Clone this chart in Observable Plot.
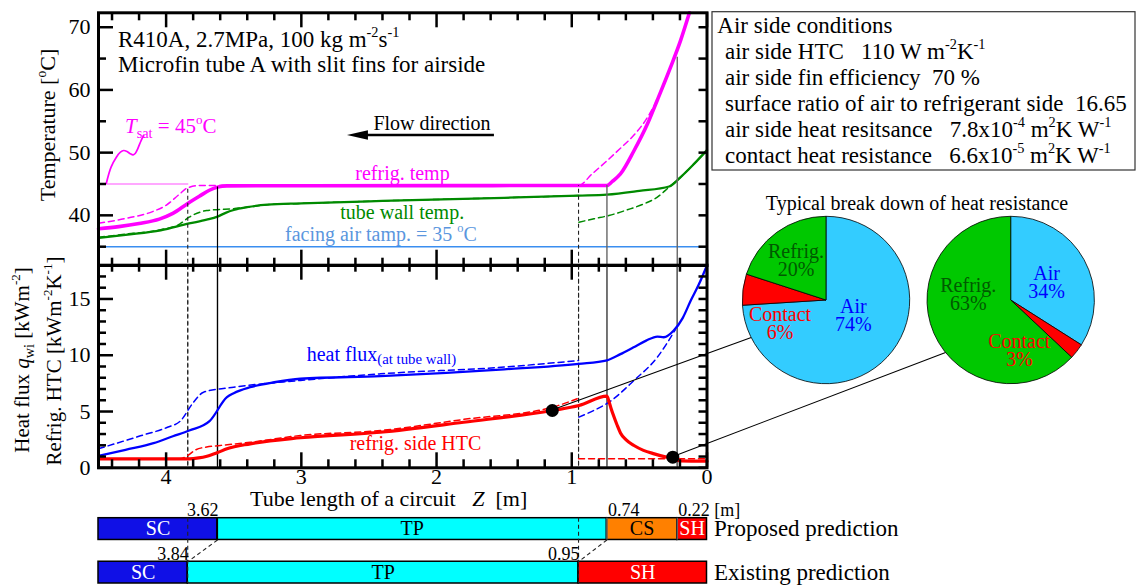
<!DOCTYPE html>
<html><head><meta charset="utf-8">
<script src="https://cdn.jsdelivr.net/npm/d3@7"></script>
<script src="https://cdn.jsdelivr.net/npm/@observablehq/plot@0.6"></script>
<style>
html,body{margin:0;padding:0;background:#fff;overflow:hidden}
#chart{position:relative;width:1139px;height:588px}
#chart svg{position:absolute;left:0;top:0}
</style></head><body><div id="chart"></div>
<script>
// ---------------- data ----------------
const zTicksMajor = [0, 1, 2, 3, 4];
const zTicksMinor = [0.2,0.4,0.6,0.8,1.2,1.4,1.6,1.8,2.2,2.4,2.6,2.8,3.2,3.4,3.6,3.8,4.2,4.4];
const tempTicksMajor = [40, 50, 60, 70];
const tempTicksMinor = [35, 45, 55, 65];
const fluxTicksMajor = [0, 5, 10, 15];
const fluxTicksMinor = [1,2,3,4,6,7,8,9,11,12,13,14,16,17];

// temperature [°C] vs tube length Z [m]
const refrigTempProposed = [[4.5,37.85],[4.35,38.2],[4.2,38.7],[4.05,39.4],[3.95,40.3],[3.84,41.9],[3.75,43.1],[3.68,44.0],[3.62,44.5],[3.55,44.7],[3.0,44.72],[2.0,44.74],[1.0,44.75],[0.74,44.75],[0.7,45.4],[0.64,46.6],[0.54,50.3],[0.44,54.6],[0.367,58.4],[0.27,63.6],[0.195,67.9],[0.13,72.3]];
const refrigTempExisting = [[4.5,38.74],[4.3,39.5],[4.1,40.6],[4.0,41.6],[3.9,43.4],[3.84,44.4],[3.75,44.75],[3.0,44.75],[2.0,44.75],[0.95,44.75],[0.85,46.6],[0.75,48.5],[0.65,50.5],[0.54,52.8],[0.45,55.3],[0.367,58.5],[0.3,61.8],[0.27,63.6],[0.195,67.9],[0.13,72.3]];
const wallTempProposed = [[4.5,36.4],[4.3,36.9],[4.04,37.6],[3.83,38.7],[3.7,39.3],[3.62,39.8],[3.56,40.4],[3.5,40.85],[3.4,41.3],[3.25,41.7],[3.0,41.9],[2.4,42.3],[1.5,42.8],[0.95,43.15],[0.74,43.3],[0.5,43.9],[0.28,44.6],[0.195,46.1],[0.096,48.2],[0,50.4]];
const wallTempExistingTP = [[4.5,36.5],[4.3,37.0],[4.04,37.7],[3.9,38.6],[3.83,39.7],[3.7,40.77],[3.6,40.93],[3.53,41.0],[3.4,41.3],[3.25,41.7],[3.0,41.9],[2.4,42.3],[1.5,42.8],[0.95,43.15]];
const wallTempExistingSH = [[0.947,38.9],[0.836,39.45],[0.725,39.97],[0.589,40.88],[0.466,41.84],[0.367,42.9],[0.281,44.5],[0.195,46.1],[0.096,48.2],[0,50.4]];
const saturationTemp = [[4.5,45],[3.84,45]];
const facingAirTemp = [[4.5,35],[0,35]];

// heat flux [kW m-2] and refrigerant HTC [kW m-2 K-1] vs Z [m]
const heatFluxProposed = [[4.5,1.05],[4.3,1.6],[4.093,2.19],[3.95,2.8],[3.829,3.31],[3.679,4.14],[3.55,6.27],[3.5,6.63],[3.378,7.16],[3.2,7.6],[3.007,7.91],[2.415,8.15],[1.5,8.75],[0.95,9.24],[0.74,9.55],[0.64,10.1],[0.543,10.71],[0.45,11.3],[0.367,11.66],[0.32,11.6],[0.246,12.2],[0.18,13.3],[0.12,14.86],[0.06,16.3],[0,18.0]];
const heatFluxExistingTP = [[4.5,1.69],[4.19,2.84],[3.99,3.6],[3.896,4.14],[3.797,5.83],[3.723,6.72],[3.5,7.16],[3.007,7.76],[2.415,8.35],[1.5,8.95],[0.95,9.53]];
const heatFluxExistingSH = [[0.947,4.5],[0.836,5.1],[0.725,5.83],[0.54,7.76],[0.367,9.83],[0.235,12.25]];
const htcProposed = [[4.5,0.8],[3.83,0.8],[3.76,0.88],[3.698,1.03],[3.62,1.35],[3.55,1.69],[3.378,2.13],[3.007,2.67],[2.415,3.16],[1.8,4.05],[1.144,5.09],[0.947,5.53],[0.74,6.36],[0.725,5.9],[0.71,5.3],[0.69,4.6],[0.665,3.8],[0.64,3.1],[0.6,2.5],[0.54,1.98],[0.47,1.55],[0.39,1.24],[0.3,0.95],[0.244,0.8],[0.196,0.62],[0,0.59]];
const htcExistingTP = [[4.5,0.8],[3.9,0.8],[3.86,0.95],[3.84,1.1],[3.78,1.6],[3.7,1.85],[3.6,1.98],[3.378,2.27],[3.007,2.87],[2.415,3.31],[1.8,4.3],[1.144,5.38],[0.96,6.13]];
const htcExistingSH = [[0.95,0.8],[0,0.8]];
const resistancePoints = [[1.144,5.09],[0.253,0.94]];

// region prediction bars
const predictionNames = ["Proposed prediction", "Existing prediction"];
const proposedRegions = ["SC", "TP", "CS", "SH"];
const proposedBounds = [4.5, 3.62, 0.74, 0.22, 0];
const proposedBoundLabels = ["3.62", "0.74", "0.22 [m]"];
const existingRegions = ["SC", "TP", "SH"];
const existingBounds = [4.5, 3.84, 0.95, 0];
const existingBoundLabels = ["3.84", "0.95"];
const proposedBoundaryStartT = [44.5, 44.75, 65.2];
const existingBoundaryStartT = [44.4, 44.75];

// heat-resistance breakdown pies [%]
const pieCategories = ["Air", "Contact", "Refrig."];
const pieSharesA = [74, 6, 20];
const pieSharesB = [34, 3, 63];

// ---------------- layout & style ----------------
const W = 1139, H = 588, xL = 98, xR = 706.5;
const fontCss = "'Liberation Serif', 'Times New Roman', serif";
const baseStyle = {background: "transparent", overflow: "visible", fontFamily: fontCss, fontSize: "22px", color: "black"};
const xOpts = {domain: [4.5, 0], range: [xL, xR], axis: null};
const FW = xR - xL;
const topY0 = 12.3, topY1 = 265, botY0 = 264.7, botY1 = 467.3;
const FH1 = topY1 - topY0, FH2 = botY1 - botY0;
const XY = {x: d => d[0], y: d => d[1]};
const curve = "monotone-x";
const TW = 2.5;
const regionFill = {SC: "#1010e6", TP: "#00ffff", CS: "#ff8000", SH: "#ff0000"};
const regionText = {SC: "#ffffff", TP: "#000000", CS: "#000000", SH: "#ffffff"};
const pieFill = ["#33ccff", "#ff0000", "#00c800"];
const pieText = ["#0000ff", "#ff0000", "#005a00"];
const pieLayout = [
  {cx: 826, cy: 300, r: 83.7, leaderDeg: 153.3, labelOffset: [[27.3, 13.3], [-46, 21], [-30, -41.7]]},
  {cx: 1010.7, cy: 300, r: 83.7, leaderDeg: 141.1, labelOffset: [[36, -20], [8.6, 48.3], [-42.4, -8.3]]}
];
const tSatPointer = [[4.442,45.12],[4.407,47.68],[4.368,49.27],[4.338,50.07],[4.314,50.34],[4.289,50.18],[4.264,49.81],[4.244,49.65],[4.227,49.91],[4.21,50.61],[4.185,51.93],[4.166,52.73]];
const flowArrow = {from: 1.572, to: 2.659, t: 52.73};
const axisText = {fontFamily: fontCss, fontSize: 22, fontVariant: "normal", tickFormat: d => String(d), label: null, tickSize: 0};

const boundaryRows = [
  ...proposedBounds.slice(1, -1).map((z, i) => ({z, t: proposedBoundaryStartT[i], kind: i === 0 ? "black" : "gray", label: proposedBoundLabels[i]})),
  ...existingBounds.slice(1, -1).map((z, i) => ({z, t: existingBoundaryStartT[i], kind: "dash", label: existingBoundLabels[i]}))
];
const ruleStyle = {
  black: {stroke: "#000", strokeWidth: 1.2},
  gray: {stroke: "#666", strokeWidth: 1.4},
  dash: {stroke: "#222", strokeWidth: 1.1, strokeDasharray: "4,3"}
};
function boundaryRules(extra) {
  return ["black", "gray", "dash"].map(k =>
    Plot.ruleX(boundaryRows.filter(d => d.kind === k), {x: "z", ...extra(k), ...ruleStyle[k]}));
}

const chart = document.getElementById("chart");

// ---------------- top panel: temperatures ----------------
const topPlot = Plot.plot({
  width: W, height: H, marginLeft: xL, marginRight: W - xR, marginTop: topY0, marginBottom: H - topY1,
  style: baseStyle, x: xOpts,
  y: {domain: [32, 72.3], range: [topY1, topY0], axis: null},
  marks: [
    Plot.line(facingAirTemp, {...XY, stroke: "#3a8ef0", strokeWidth: 1.6}),
    Plot.line(saturationTemp, {...XY, stroke: "#ff8cff", strokeWidth: 1.4}),
    Plot.line(wallTempExistingTP, {...XY, curve, stroke: "#008a00", strokeWidth: 1.5, strokeDasharray: "6,4"}),
    Plot.line(wallTempExistingSH, {...XY, curve, stroke: "#008a00", strokeWidth: 1.5, strokeDasharray: "6,4"}),
    Plot.line(wallTempProposed, {...XY, curve, stroke: "#008a00", strokeWidth: 2.3}),
    Plot.line(refrigTempExisting, {...XY, curve, stroke: "#ff00ff", strokeWidth: 1.5, strokeDasharray: "6,4"}),
    Plot.line(refrigTempProposed, {...XY, curve, stroke: "#ff00ff", strokeWidth: 3.6}),
    Plot.line(tSatPointer, {...XY, curve: "catmull-rom", stroke: "#ff00ff", strokeWidth: 1.7}),
    ...boundaryRules(() => ({y1: "t"})),
    Plot.tickX(zTicksMajor, {x: d => d, insetBottom: FH1 - 15, strokeWidth: TW}),
    Plot.tickX(zTicksMinor, {x: d => d, insetBottom: FH1 - 8, strokeWidth: TW}),
    Plot.tickY(tempTicksMajor, {y: d => d, insetRight: FW - 15, strokeWidth: TW}),
    Plot.tickY(tempTicksMinor, {y: d => d, insetRight: FW - 8, strokeWidth: TW}),
    Plot.tickY([...tempTicksMajor, ...tempTicksMinor], {y: d => d, insetLeft: FW - 8, strokeWidth: TW}),
    Plot.frame({stroke: "black", strokeWidth: 3}),
    Plot.axisY({anchor: "left", ticks: tempTicksMajor, tickPadding: 8, ...axisText}),
    Plot.text(["refrig. temp"], {x: 2.252, y: 45.71, lineAnchor: "bottom", fill: "#ff00ff", fontSize: 20}),
    Plot.text(["tube wall temp."], {x: 2.254, y: 39.45, lineAnchor: "bottom", fill: "#008a00", fontSize: 20}),
    Plot.text(["Flow direction"], {x: 2.467, y: 53.53, lineAnchor: "bottom", textAnchor: "start", fill: "#000", fontSize: 20}),
    (index, scales) => {
      const g = d3.create("svg:g");
      const x1 = scales.x(flowArrow.from), x2 = scales.x(flowArrow.to), yy = scales.y(flowArrow.t);
      g.append("line").attr("x1", x1).attr("x2", x2 + 16).attr("y1", yy).attr("y2", yy).attr("stroke", "#000").attr("stroke-width", 2.5);
      g.append("path").attr("d", `M${x2},${yy}L${x2 + 21},${yy - 4.8}L${x2 + 21},${yy + 4.8}Z`).attr("fill", "#000");
      return g.node();
    }
  ]
});
chart.appendChild(topPlot);

// ---------------- bottom panel: heat flux & HTC ----------------
const botPlot = Plot.plot({
  width: W, height: H, marginLeft: xL, marginRight: W - xR, marginTop: botY0, marginBottom: H - botY1,
  style: baseStyle, x: xOpts,
  y: {domain: [0, 18], range: [botY1, botY0], axis: null},
  marks: [
    ...boundaryRules(() => ({})),
    Plot.line(heatFluxExistingTP, {...XY, curve, stroke: "#0000ff", strokeWidth: 1.5, strokeDasharray: "6,4"}),
    Plot.line(heatFluxExistingSH, {...XY, curve, stroke: "#0000ff", strokeWidth: 1.5, strokeDasharray: "6,4"}),
    Plot.line(heatFluxProposed, {...XY, curve, stroke: "#0000ff", strokeWidth: 2.3}),
    Plot.line(htcExistingTP, {...XY, curve, stroke: "#ff0000", strokeWidth: 1.5, strokeDasharray: "6,4"}),
    Plot.line(htcExistingSH, {...XY, curve, stroke: "#ff0000", strokeWidth: 1.5, strokeDasharray: "6,4"}),
    Plot.line(htcProposed, {...XY, curve, stroke: "#ff0000", strokeWidth: 3.2}),
    Plot.dot(resistancePoints, {...XY, r: 6.5, fill: "#000"}),
    Plot.tickX(zTicksMajor, {x: d => d, insetTop: -15, insetBottom: FH2 - 15, strokeWidth: TW}),
    Plot.tickX(zTicksMinor, {x: d => d, insetTop: -7, insetBottom: FH2 - 7, strokeWidth: TW}),
    Plot.tickX(zTicksMajor, {x: d => d, insetTop: FH2 - 15, strokeWidth: TW}),
    Plot.tickX(zTicksMinor, {x: d => d, insetTop: FH2 - 8, strokeWidth: TW}),
    Plot.tickY(fluxTicksMajor, {y: d => d, insetRight: FW - 15, strokeWidth: TW}),
    Plot.tickY(fluxTicksMinor, {y: d => d, insetRight: FW - 8, strokeWidth: TW}),
    Plot.tickY([...fluxTicksMajor, ...fluxTicksMinor], {y: d => d, insetLeft: FW - 8, strokeWidth: TW}),
    Plot.frame({stroke: "black", strokeWidth: 3}),
    Plot.axisY({anchor: "left", ticks: fluxTicksMajor, tickPadding: 8, ...axisText}),
    Plot.axisX({anchor: "bottom", ticks: zTicksMajor, tickPadding: 1, ...axisText}),
    Plot.text(["refrig. side HTC"], {x: 2.156, y: 1.54, lineAnchor: "bottom", fill: "#ff0000", fontSize: 20})
  ]
});
chart.appendChild(botPlot);

// ---------------- prediction bars ----------------
const segRows = [
  ...proposedRegions.map((name, i) => ({row: 0, name, x1: proposedBounds[i], x2: proposedBounds[i + 1]})),
  ...existingRegions.map((name, i) => ({row: 1, name, x1: existingBounds[i], x2: existingBounds[i + 1]}))
];
const connectors = [[proposedBounds[1], existingBounds[1]], [proposedBounds[2], existingBounds[2]]];
const barsPlot = Plot.plot({
  width: W, height: H, marginLeft: xL, marginRight: W - xR, marginTop: botY1, marginBottom: 0,
  style: baseStyle, x: xOpts,
  y: {domain: [0, 3], range: [517.7, 583], axis: null},
  color: {type: "identity"},
  marks: [
    Plot.rect(segRows, {x1: "x1", x2: "x2", y1: d => d.row * 2, y2: d => d.row * 2 + 1, fill: d => regionFill[d.name], stroke: "#000", strokeWidth: 1.5}),
    Plot.text(segRows, {x: d => (d.x1 + d.x2) / 2, y: d => d.row * 2 + 0.5, text: "name", fill: d => regionText[d.name], fontSize: 20}),
    ...["black", "gray"].map(k => Plot.ruleX(boundaryRows.filter(d => d.kind === k), {x: "z", y2: 1, ...ruleStyle[k]})),
    Plot.ruleX(boundaryRows.filter(d => d.kind === "dash"), {x: "z", y2: 3, ...ruleStyle.dash}),
    Plot.link(connectors, {x1: d => d[0], x2: d => d[1], y1: 1, y2: 2, stroke: "#222", strokeWidth: 1.1, strokeDasharray: "4,3"}),
    Plot.text(predictionNames, {x: 0, y: (d, i) => i * 2 + 0.5, dx: 7, textAnchor: "start", fontSize: 23}),
    Plot.text(boundaryRows.filter(d => d.kind === "black"), {x: "z", y: 0, text: "label", dx: 1, dy: -2.5, lineAnchor: "bottom", textAnchor: "end", fontSize: 18}),
    Plot.text(boundaryRows.filter(d => d.kind === "gray"), {x: "z", y: 0, text: "label", dx: 1, dy: -2.5, lineAnchor: "bottom", textAnchor: "start", fontSize: 18}),
    Plot.text(boundaryRows.filter(d => d.kind === "dash"), {x: "z", y: 2, text: "label", dx: 1, dy: -2, lineAnchor: "bottom", textAnchor: "end", fontSize: 18})
  ]
});
chart.appendChild(barsPlot);

// ---------------- pies ----------------
const xs = botPlot.scale("x"), ys = botPlot.scale("y");
const piePlot = Plot.plot({
  width: W, height: H, margin: 0, style: baseStyle,
  marks: [
    () => {
      const g = d3.create("svg:g");
      [pieSharesA, pieSharesB].forEach((shares, k) => {
        const L = pieLayout[k];
        const p = resistancePoints[k];
        const a = L.leaderDeg * Math.PI / 180;
        g.append("line").attr("x1", xs.apply(p[0])).attr("y1", ys.apply(p[1]))
          .attr("x2", L.cx + L.r * Math.cos(a)).attr("y2", L.cy + L.r * Math.sin(a))
          .attr("stroke", "#000").attr("stroke-width", 1.1);
        const arcs = d3.pie().sort(null)(shares);
        const arc = d3.arc().innerRadius(0).outerRadius(L.r);
        const pg = g.append("g").attr("transform", `translate(${L.cx},${L.cy})`);
        pg.selectAll("path").data(arcs).join("path").attr("d", arc)
          .attr("fill", (d, i) => pieFill[i]).attr("stroke", "#000").attr("stroke-width", 0.8);
        arcs.forEach((d, i) => {
          const [ox, oy] = L.labelOffset[i];
          const t = pg.append("text").attr("text-anchor", "middle").attr("fill", pieText[i]).attr("font-size", 20);
          t.append("tspan").attr("x", ox).attr("y", oy).text(pieCategories[i]);
          t.append("tspan").attr("x", ox).attr("y", oy + 18).text(shares[i] + "%");
        });
      });
      return g.node();
    }
  ]
});
chart.appendChild(piePlot);

// ---------------- rich text annotations ----------------
function tspans(segs, F) {
  let shift = 0, out = "";
  for (const s of segs) {
    const [t, k = ""] = Array.isArray(s) ? s : [s];
    let target = 0, size = null, italic = false;
    if (k === "sup") { target = -0.42 * F; size = 0.62 * F; }
    else if (k === "sub") { target = 0.26 * F; size = 0.68 * F; }
    else if (k === "sub2") { target = 0.14 * F; size = 0.74 * F; }
    else if (k === "i") italic = true;
    const dy = (target - shift).toFixed(2); shift = target;
    out += `<tspan dy="${dy}"${size ? ` font-size="${size.toFixed(1)}"` : ""}${italic ? ` font-style="italic"` : ""}>${t}</tspan>`;
  }
  return out;
}
function label(x, y, segs, {size = 22, fill = "#000", anchor = "start", rotate = 0} = {}) {
  const pos = rotate ? `x="0" y="0" transform="translate(${x},${y}) rotate(${rotate})"` : `x="${x}" y="${y}"`;
  return `<text ${pos} font-size="${size}" fill="${fill}" text-anchor="${anchor}" style="white-space:pre">${tspans(segs, size)}</text>`;
}
const legendLines = [
  [["Air side conditions"]],
  [["air side HTC   110 W m"], ["-2", "sup"], ["K"], ["-1", "sup"]],
  [["air side fin efficiency  70 %"]],
  [["surface ratio of air to refrigerant side  16.65"]],
  [["air side heat resitsance   7.8x10"], ["-4", "sup"], [" m"], ["2", "sup"], ["K W"], ["-1", "sup"]],
  [["contact heat resistance   6.6x10"], ["-5", "sup"], [" m"], ["2", "sup"], ["K W"], ["-1", "sup"]]
];
let ov = `<svg width="${W}" height="${H}" viewBox="0 0 ${W} ${H}" font-family="${fontCss}">`;
ov += `<rect x="712" y="11.7" width="423" height="158.3" fill="#fff" stroke="#333" stroke-width="1.2"/>`;
legendLines.forEach((segs, i) => { ov += label(i === 0 ? 717.3 : 725, 33 + 25.9 * i, segs, {size: 23}); });
ov += label(118, 46.7, [["R410A, 2.7MPa, 100 kg m"], ["-2", "sup"], ["s"], ["-1", "sup"]], {size: 23});
ov += label(118, 71.5, [["Microfin tube A with slit fins for airside"]], {size: 23});
ov += label(125, 133, [["T", "i"], ["sat", "sub"], [" = 45"], ["o", "sup"], ["C"]], {size: 21, fill: "#ff00ff"});
ov += label(285, 240.7, [["facing air tamp. = 35 "], ["o", "sup"], ["C"]], {size: 20, fill: "#5a96de"});
ov += label(306.7, 361, [["heat flux"], ["(at tube wall)", "sub2"]], {size: 20, fill: "#0000ff"});
ov += label(55, 125, [["Temperature ["], ["o", "sup"], ["C]"]], {size: 22, anchor: "middle", rotate: -90});
ov += label(29, 360, [["Heat flux "], ["q", "i"], ["wi", "sub"], [" [kWm"], ["-2", "sup"], ["]"]], {size: 21, anchor: "middle", rotate: -90});
ov += label(61, 361, [["Refrig. HTC [kWm"], ["-2", "sup"], ["K"], ["-1", "sup"], ["]"]], {size: 21, anchor: "middle", rotate: -90});
ov += label(250, 506, [["Tube length of a circuit   "], ["Z", "i"], ["  [m]"]], {size: 22});
ov += label(917, 210, [["Typical break down of heat resistance"]], {size: 20, anchor: "middle"});
ov += `</svg>`;
chart.insertAdjacentHTML("beforeend", ov);
</script>
</body></html>
